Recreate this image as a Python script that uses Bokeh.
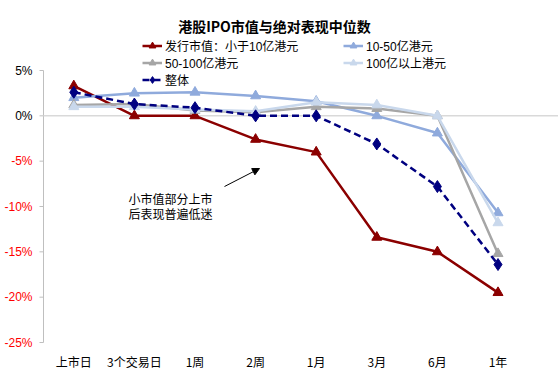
from bokeh.plotting import figure
from bokeh.models import (Range1d, FixedTicker, Legend, LegendItem,
                          Label, ColumnDataSource, Arrow, NormalHead)
from bokeh.core.properties import value
from bokeh.embed import file_html
from bokeh.resources import INLINE

title = "港股IPO市值与绝对表现中位数"
categories = ["上市日", "3个交易日", "1周", "2周", "1月", "3月", "6月", "1年"]
small_cap = [3.3, 0.0, 0.0, -2.6, -4.0, -13.4, -15.0, -19.5]      # 发行市值：小于10亿港元
mid_cap = [2.0, 2.5, 2.6, 2.2, 1.6, 0.0, -1.9, -10.7]           # 10-50亿港元
large_cap = [1.2, 1.3, 0.6, 0.4, 1.0, 0.8, 0.0, -15.2]          # 50-100亿港元
mega_cap = [1.0, 1.0, 0.7, 0.5, 1.5, 1.2, 0.0, -11.8]           # 100亿以上港元
overall = [2.6, 1.3, 0.9, 0.0, 0.0, -3.1, -7.8, -16.4]          # 整体
y_ticks = [-25, -20, -15, -10, -5, 0, 5]
note_lines = ["小市值部分上市", "后表现普遍低迷"]

FONT = "Liberation Sans, Noto Sans CJK SC"
xs = list(range(len(categories)))

W, H = 558, 388
BOTTOM = 36
PX_X = 60.6                      # pixels per category
PX_Y = 9.067                     # pixels per percent
X0 = -0.5 - 43 / PX_X
X1 = X0 + W / PX_X
Y1 = 5 + 70 / PX_Y
Y0 = Y1 - (H - BOTTOM) / PX_Y

p = figure(width=W, height=H, output_backend="svg", toolbar_location=None,
           x_range=Range1d(X0, X1), y_range=Range1d(Y0, Y1),
           min_border_left=0, min_border_right=0, min_border_top=0, min_border_bottom=BOTTOM)
p.outline_line_color = None
p.xgrid.visible = False
p.ygrid.visible = False
p.yaxis.visible = False

# x axis (labels only)
xa = p.xaxis[0]
xa.ticker = FixedTicker(ticks=xs)
xa.major_label_overrides = {i: c for i, c in zip(xs, categories)}
xa.axis_line_color = None
xa.major_tick_line_color = None
xa.major_tick_out = 0
xa.major_tick_in = 0
xa.minor_tick_line_color = None
xa.major_label_standoff = 0
xa.major_label_text_font = "Noto Sans CJK SC"
xa.major_label_text_font_size = "12px"
xa.major_label_text_color = "#000000"

# drawn value axis at the left edge of the first category band
x_axis = xs[0] - 0.5
tick_len = 4 / PX_X
p.segment(x0=[x_axis], y0=[min(y_ticks)], x1=[x_axis], y1=[max(y_ticks)],
          line_color="#BFBFBF", line_width=1)
p.segment(x0=[x_axis] * len(y_ticks), y0=y_ticks, x1=[x_axis - tick_len] * len(y_ticks), y1=y_ticks,
          line_color="#BFBFBF", line_width=1)
tick_src = ColumnDataSource(dict(
    x=[x_axis] * len(y_ticks), y=y_ticks, t=[f"{t}%" for t in y_ticks],
    c=["#FF0000" if t < 0 else "#000000" for t in y_ticks]))
p.text(x="x", y="y", text="t", source=tick_src, x_offset=-11, text_align="right",
       text_baseline="middle", text_font=value(FONT), text_font_size="12px", text_color="c")

# zero line
p.segment(x0=[x_axis], y0=[0], x1=[X1], y1=[0], line_color="#D9D9D9", line_width=1.5)

series = [
    ("发行市值：小于10亿港元", small_cap, "#8B0000", "triangle", None, 10),
    ("10-50亿港元", mid_cap, "#8FAADC", "triangle", None, 10),
    ("50-100亿港元", large_cap, "#A6A6A6", "triangle", None, 10),
    ("100亿以上港元", mega_cap, "#C9D8EC", "triangle", None, 10),
    ("整体", overall, "#000080", "diamond", "7 4", 12),
]
items = {}
for name, vals, color, marker, dash, size in series:
    src = ColumnDataSource(dict(x=xs, y=vals))
    kw = dict(line_dash=dash) if dash else {}
    l = p.line("x", "y", source=src, line_color=color, line_width=2.5, **kw)
    s = p.scatter("x", "y", source=src, marker=marker, size=size, fill_color=color, line_color=color)
    items[name] = [l, s]

def make_legend(names, x, y):
    lg = Legend(items=[LegendItem(label=n, renderers=items[n]) for n in names],
                location=(x, y), orientation="vertical", glyph_width=20, glyph_height=17,
                label_height=17, label_standoff=3, spacing=0, padding=0, margin=0,
                border_line_color=None, background_fill_alpha=0,
                label_text_font=FONT, label_text_font_size="12px", label_text_color="#000000")
    p.add_layout(lg, "center")

make_legend(["发行市值：小于10亿港元", "50-100亿港元", "整体"], 142, 264)
make_legend(["10-50亿港元", "100亿以上港元"], 343, 281)

p.add_layout(Label(x=274, y=327, x_units="screen", y_units="screen", text=title,
                   text_align="center", text_baseline="middle", text_font="Noto Sans CJK SC",
                   text_font_size="14px", text_font_style="bold", text_color="#000000"))

for i, line in enumerate(note_lines):
    p.add_layout(Label(x=170, y=154 - 15 * i, x_units="screen", y_units="screen", text=line,
                       text_align="center", text_baseline="middle", text_font="Noto Sans CJK SC",
                       text_font_size="12px", text_color="#000000"))

p.add_layout(Arrow(end=NormalHead(size=7, fill_color="black", line_color="black"),
                   x_start=224, y_start=166, x_end=259, y_end=184,
                   start_units="screen", end_units="screen", line_color="black", line_width=1))

open("out.html", "w").write(file_html(p, INLINE))
